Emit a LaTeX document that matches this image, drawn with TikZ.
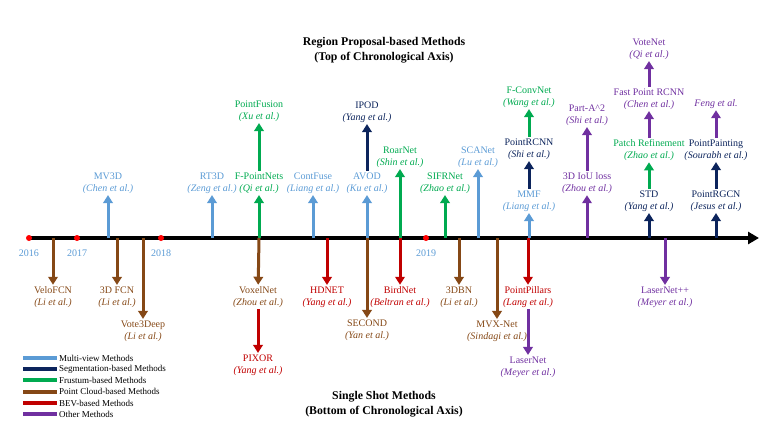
\documentclass[tikz,border=0pt]{standalone}
\usepackage{fontspec}
\setmainfont{Liberation Serif}
\usetikzlibrary{arrows.meta}
\definecolor{mvc}{RGB}{91,155,213}
\definecolor{sgc}{RGB}{12,36,92}
\definecolor{frc}{RGB}{0,170,80}
\definecolor{pcc}{RGB}{133,72,22}
\definecolor{bvc}{RGB}{192,0,0}
\definecolor{otc}{RGB}{112,48,160}
\newcommand\ital[1]{\textit{#1}}
\tikzset{
  lab/.style={align=center,inner sep=1.5pt,font=\fontsize{10}{12}\selectfont},
  arr/.style={line width=3pt,-{Triangle[width=9.5pt,length=8pt]}},
  yr/.style={font=\fontsize{10}{12}\selectfont,text=mvc,inner sep=1pt},
  dot/.style={circle,fill=red,inner sep=0pt,minimum size=6pt},
  ttl/.style={align=center,font=\fontsize{11.8}{14.5}\selectfont\bfseries},
  leg/.style={line width=4pt},
  legt/.style={anchor=west,inner sep=1pt,font=\fontsize{9}{10}\selectfont}
}
\begin{document}
\begin{tikzpicture}[x=1pt,y=-1pt]
\useasboundingbox (0,0) rectangle (780,431);
% axis
\coordinate (axs) at (27,238);
\coordinate (axe) at (759,238);
\draw[line width=4pt,-{Triangle[width=12pt,length=11pt]}] (axs) -- (axe);
% axis points
\foreach \n/\x in {a16/29,a17/77,a18/161,a19/426} \coordinate (\n) at (\x,238);
\foreach \n/\x in {vel/53,fcn/117,mv3/108,v3d/143,rt3/212,fpn/259,cfu/313,hdn/327,avo/367,sec/367,roa/400,bir/400,sif/445,dbn/459,sca/478,mvx/497,mmf/529,ppi/528,iou/587,std/649,lnp/665,rgc/716}
  \coordinate (\n0) at (\x,238);
% titles
\node[ttl] (toptitle) at (384,50) {Region Proposal-based Methods\\(Top of Chronological Axis)};
\node[ttl] (bottitle) at (384,404) {Single Shot Methods\\(Bottom of Chronological Axis)};
% top labels
\node[lab,text=mvc] (mv3) at (108,183) {MV3D\\\ital{(Chen et al.)}};
\node[lab,text=mvc] (rt3) at (212,183) {RT3D\\\ital{(Zeng et al.)}};
\node[lab,text=frc] (fpn) at (259,183) {F-PointNets\\\ital{(Qi et al.)}};
\node[lab,text=frc] (pfu) at (259,111) {PointFusion\\\ital{(Xu et al.)}};
\node[lab,text=mvc] (cfu) at (313,183) {ContFuse\\\ital{(Liang et al.)}};
\node[lab,text=mvc] (avo) at (367,183) {AVOD\\\ital{(Ku et al.)}};
\node[lab,text=sgc] (ipo) at (367,112) {IPOD\\\ital{(Yang et al.)}};
\node[lab,text=frc] (roa) at (400,157) {RoarNet\\\ital{(Shin et al.)}};
\node[lab,text=frc] (sif) at (445,183) {SIFRNet\\\ital{(Zhao et al.)}};
\node[lab,text=mvc] (sca) at (478,157) {SCANet\\\ital{(Lu et al.)}};
\node[lab,text=mvc] (mmf) at (529,201) {MMF\\\ital{(Liang et al.)}};
\node[lab,text=sgc] (prc) at (529,149) {PointRCNN\\\ital{(Shi et al.)}};
\node[lab,text=frc] (fcv) at (529,97) {F-ConvNet\\\ital{(Wang et al.)}};
\node[lab,text=otc] (iou) at (587,183) {3D IoU loss\\\ital{(Zhou et al.)}};
\node[lab,text=otc] (paa) at (587,115) {Part-A\textasciicircum 2\\\ital{(Shi et al.)}};
\node[lab,text=sgc] (std) at (649,201) {STD\\\ital{(Yang et al.)}};
\node[lab,text=frc] (ptr) at (649,150) {Patch Refinement\\\ital{(Zhao et al.)}};
\node[lab,text=otc] (fpr) at (649,99) {Fast Point RCNN\\\ital{(Chen et al.)}};
\node[lab,text=otc] (vot) at (649,49) {VoteNet\\\ital{(Qi et al.)}};
\node[lab,text=sgc] (rgc) at (716,201) {PointRGCN\\\ital{(Jesus et al.)}};
\node[lab,text=sgc] (ppt) at (716,150) {PointPainting\\\ital{(Sourabh et al.)}};
\node[lab,text=otc] (fen) at (716,104) {\ital{Feng et al.}};
% bottom labels
\node[lab,text=pcc] (vel) at (53,297) {VeloFCN\\\ital{(Li et al.)}};
\node[lab,text=pcc] (fcn) at (117,297) {3D FCN\\\ital{(Li et al.)}};
\node[lab,text=pcc] (v3d) at (143,331) {Vote3Deep\\\ital{(Li et al.)}};
\node[lab,text=pcc] (vox) at (258,297) {VoxelNet\\\ital{(Zhou et al.)}};
\node[lab,text=bvc] (pix) at (258,365) {PIXOR\\\ital{(Yang et al.)}};
\node[lab,text=bvc] (hdn) at (327,297) {HDNET\\\ital{(Yang et al.)}};
\node[lab,text=pcc] (sec) at (367,330) {SECOND\\\ital{(Yan et al.)}};
\node[lab,text=bvc] (bir) at (400,297) {BirdNet\\\ital{(Beltran et al.)}};
\node[lab,text=pcc] (dbn) at (459,297) {3DBN\\\ital{(Li et al.)}};
\node[lab,text=pcc] (mvx) at (497,331) {MVX-Net\\\ital{(Sindagi et al.)}};
\node[lab,text=bvc] (ppi) at (528,297) {PointPillars\\\ital{(Lang et al.)}};
\node[lab,text=otc] (lsn) at (528,367) {LaserNet\\\ital{(Meyer et al.)}};
\node[lab,text=otc] (lnp) at (665,297) {LaserNet++\\\ital{(Meyer et al.)}};
% top arrows
\draw[arr,mvc] (mv30) -- (mv3);
\draw[arr,mvc] (rt30) -- (rt3);
\draw[arr,frc] (fpn0) -- (fpn);
\draw[arr,frc] (fpn) -- (pfu);
\draw[arr,mvc] (cfu0) -- (cfu);
\draw[arr,mvc] (avo0) -- (avo);
\draw[arr,sgc] (avo) -- (ipo);
\draw[arr,frc] (roa0) -- (roa);
\draw[arr,frc] (sif0) -- (sif);
\draw[arr,mvc] (sca0) -- (sca);
\draw[arr,mvc] (mmf0) -- (mmf);
\draw[arr,sgc] (mmf) -- (prc);
\draw[arr,frc] (prc) -- (fcv);
\draw[arr,otc] (iou0) -- (iou);
\draw[arr,otc] (iou) -- (paa);
\draw[arr,sgc] (std0) -- (std);
\draw[arr,frc] (std) -- (ptr);
\draw[arr,otc] (ptr) -- (fpr);
\draw[arr,otc] (fpr) -- (vot);
\draw[arr,sgc] (rgc0) -- (rgc);
\draw[arr,sgc] (rgc) -- (ppt);
\draw[arr,otc] (ppt) -- (fen);
% bottom arrows
\draw[arr,pcc] (vel0) -- (vel);
\draw[arr,pcc] (fcn0) -- (fcn);
\draw[arr,pcc] (v3d0) -- (v3d);
\draw[arr,pcc] (fpn0) -- (vox);
\draw[arr,bvc] (vox) -- (pix);
\draw[arr,bvc] (hdn0) -- (hdn);
\draw[arr,pcc] (sec0) -- (sec);
\draw[arr,bvc] (bir0) -- (bir);
\draw[arr,pcc] (dbn0) -- (dbn);
\draw[arr,pcc] (mvx0) -- (mvx);
\draw[arr,bvc] (ppi0) -- (ppi);
\draw[arr,otc] (ppi) -- (lsn);
\draw[arr,otc] (lnp0) -- (lnp);
% year dots
\foreach \n in {a16,a17,a18,a19} \node[dot] at (\n) {};
\node[yr] (y16) at (29,253) {2016};
\node[yr] (y17) at (77,253) {2017};
\node[yr] (y18) at (161,253) {2018};
\node[yr] (y19) at (426,253) {2019};
% legend
\foreach \c/\t/\y [count=\i] in {mvc/Multi-view Methods/358,sgc/Segmentation-based Methods/369,frc/Frustum-based Methods/380,pcc/Point Cloud-based Methods/391.5,bvc/BEV-based Methods/403,otc/Other Methods/414}{
  \coordinate (l\i a) at (23,\y);
  \coordinate (l\i b) at (57,\y);
  \draw[leg,\c] (l\i a) -- (l\i b);
  \node[legt] (lt\i) at (58,\y) {\t};
}
\end{tikzpicture}
\end{document}
